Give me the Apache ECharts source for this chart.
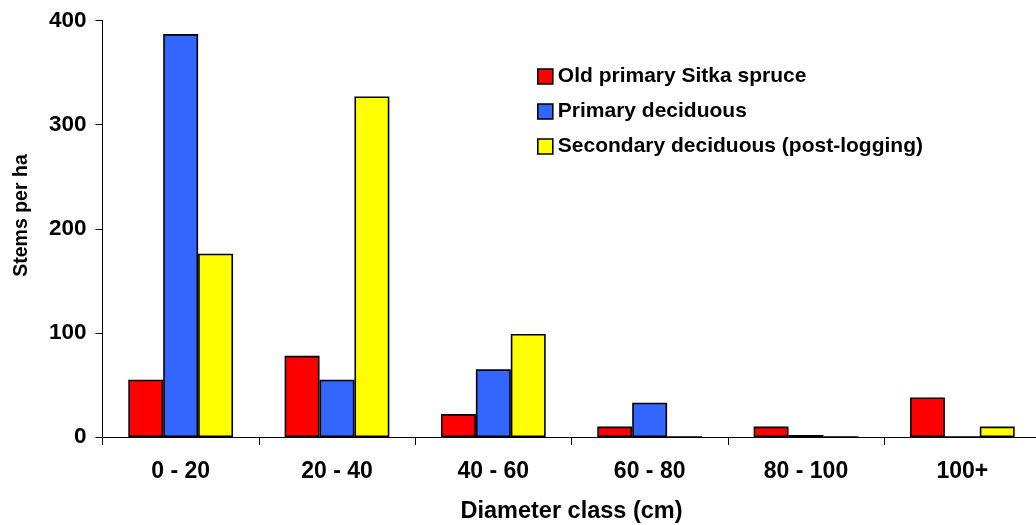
<!DOCTYPE html>
<html>
<head>
<meta charset="utf-8">
<script src="https://cdn.jsdelivr.net/npm/echarts@6/dist/echarts.min.js"></script>
<style>
  html, body { margin: 0; padding: 0; background: #fff; }
  #chart { width: 1036px; height: 525px; }
</style>
</head>
<body>
<div id="chart"></div>
<script>
// Stem density by diameter class for three forest types
const categories = ['0 - 20', '20 - 40', '40 - 60', '60 - 80', '80 - 100', '100+'];
const oldSitkaSpruce = [55, 78, 22, 10, 10, 38];
const primaryDeciduous = [387, 55, 65, 33, 2, 0];
const secondaryDeciduous = [176, 327, 99, 0, 0, 10];
const yTicks = [0, 100, 200, 300, 400];

const FONT = '"Liberation Sans", Arial, sans-serif';
const edge = { borderColor: '#000', borderWidth: 1.6 };

const chart = echarts.init(document.getElementById('chart'), null, { renderer: 'canvas' });
chart.setOption({
  animation: false,
  backgroundColor: '#fff',
  textStyle: { fontFamily: FONT },
  grid: { left: 102.5, width: 938, top: 20.5, bottom: 88, containLabel: false, outerBoundsMode: 'none' },
  legend: {
    orient: 'vertical',
    left: 537,
    top: 66,
    padding: 0,
    itemWidth: 15,
    itemHeight: 15,
    itemGap: 14,
    icon: 'rect',
    itemStyle: { borderColor: '#000', borderWidth: 1.6 },
    textStyle: { fontFamily: FONT, fontWeight: 'bold', fontSize: 21, lineHeight: 21, color: '#000' },
    data: ['Old primary Sitka spruce', 'Primary deciduous', 'Secondary deciduous (post-logging)']
  },
  graphic: [{
    type: 'text',
    rotation: Math.PI / 2,
    x: 22,
    y: 215.5,
    style: {
      text: 'Stems per ha',
      font: 'bold 19.5px "Liberation Sans", Arial, sans-serif',
      fill: '#000',
      align: 'center',
      verticalAlign: 'middle'
    }
  }],
  xAxis: {
    type: 'category',
    data: categories,
    boundaryGap: true,
    name: 'Diameter class (cm)',
    nameLocation: 'middle',
    nameGap: 63,
    nameTextStyle: { fontFamily: FONT, fontWeight: 'bold', fontSize: 23.5, color: '#000' },
    axisLine: { lineStyle: { color: '#000', width: 1 } },
    axisTick: { show: true, length: 8, inside: false, lineStyle: { color: '#000' } },
    axisLabel: { fontFamily: FONT, fontWeight: 'bold', fontSize: 23, color: '#000', margin: 23 }
  },
  yAxis: {
    type: 'value',
    min: yTicks[0],
    max: yTicks[yTicks.length - 1],
    interval: 100,
    axisLine: { show: true, lineStyle: { color: '#000', width: 1 } },
    axisTick: { show: true, length: 7, lineStyle: { color: '#000' } },
    axisLabel: { fontFamily: FONT, fontWeight: 'bold', fontSize: 22.5, color: '#000', margin: 16 },
    splitLine: { show: false }
  },
  series: [
    {
      name: 'Old primary Sitka spruce', type: 'bar', data: oldSitkaSpruce,
      barGap: '0%', barCategoryGap: '33%',
      itemStyle: Object.assign({ color: '#FF0000' }, edge)
    },
    {
      name: 'Primary deciduous', type: 'bar', data: primaryDeciduous,
      barGap: '0%', barCategoryGap: '33%',
      itemStyle: Object.assign({ color: '#3366FF' }, edge)
    },
    {
      name: 'Secondary deciduous (post-logging)', type: 'bar', data: secondaryDeciduous,
      barGap: '0%', barCategoryGap: '33%',
      itemStyle: Object.assign({ color: '#FFFF00' }, edge)
    }
  ]
});
</script>
</body>
</html>
